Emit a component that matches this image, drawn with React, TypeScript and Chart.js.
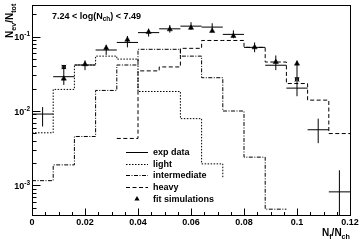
import React, { useEffect, useRef } from "react";
import { Chart, registerables } from "chart.js";

Chart.register(...registerables);

const FONT = '"Liberation Sans", Arial, Helvetica, sans-serif';

// ---- data -------------------------------------------------------------
const binEdges = [0, 0.008, 0.016, 0.024, 0.032, 0.04, 0.048, 0.056, 0.064, 0.072, 0.08, 0.088, 0.096, 0.104, 0.112, 0.12];
const binCenters = [0.004, 0.012, 0.02, 0.028, 0.036, 0.044, 0.052, 0.06, 0.068, 0.076, 0.084, 0.092, 0.1, 0.108, 0.116];

const lightValues = [0.0051, 0.0195, 0.0415, 0.0546, 0.0498, 0.0183, 0.0183, 0.0079, 0.00195, 0.00127, 0, 0, 0, 0, 0];
const intermediateValues = [0.00116, 0.00189, 0.00455, 0.0189, 0.0415, 0.0674, 0.0674, 0.0546, 0.028, 0.01, 0.0024, 0.00048, 0.00048, 0, 0];
const heavyValues = [0, 0, 0, 0, 0.00428, 0.0346, 0.0391, 0.0695, 0.0886, 0.0886, 0.0716, 0.0455, 0.0234, 0.014, 0.00498];

const expValues = [0.0091, 0.0289, 0.0415, 0.066, 0.0834, 0.113, 0.127, 0.138, 0.134, 0.107, 0.0716, 0.0412, 0.0203, 0.0056, 0.00082];
const expLow = [0.0062, 0.0224, 0.0354, 0.0567, 0.0716, 0.1, 0.113, 0.123, 0.119, 0.095, 0.0616, 0.0354, 0.0158, 0.0037, 0.0004];
const expHigh = [0.0113, 0.0412, 0.0479, 0.0778, 0.102, 0.128, 0.143, 0.156, 0.151, 0.121, 0.0834, 0.0557, 0.0249, 0.0079, 0.0016];

const fitValues = [null, 0.0272, 0.0424, 0.07, 0.0905, 0.115, 0.125, 0.131, 0.119, 0.102, 0.0716, 0.0455, 0.0433, null, null];
const fitLow = [null, null, null, null, null, null, null, null, null, null, null, null, 0.0266, null, null];
const fitHigh = [null, null, null, null, null, null, null, null, null, null, null, null, 0.0475, null, null];
const starValues = [null, 0.039, null, null, null, null, null, null, null, null, null, null, 0.0266, null, null];

const xTickValues = [0, 0.02, 0.04, 0.06, 0.08, 0.1, 0.12];
const xTickLabels = ["0", "0.02", "0.04", "0.06", "0.08", "0.1", "0.12"];
const yTickExponents = [-3, -2, -1];
const yTickLabels = ["-3", "-2", "-1"];
const legendLabels = ["exp data", "light", "intermediate", "heavy", "fit simulations"];

const X_MIN = 0;
const X_MAX = 0.12;
const Y_MIN = 4.01e-4;
const Y_MAX = 0.2655;

// ---- helpers ----------------------------------------------------------
type Part = { t: string; sub?: boolean; sup?: boolean };

function histPoints(vals: number[]) {
  const pts = vals.map((v, i) => ({ x: binEdges[i], y: v }));
  pts.push({ x: binEdges[vals.length], y: vals[vals.length - 1] });
  return pts;
}

function hBars(vals: (number | null)[]) {
  const pts: { x: number; y: number | null }[] = [];
  vals.forEach((v, i) => {
    if (v == null) return;
    pts.push({ x: binEdges[i], y: v }, { x: binEdges[i + 1], y: v }, { x: binEdges[i + 1], y: null });
  });
  return pts;
}

function vBars(lo: (number | null)[], hi: (number | null)[]) {
  const pts: { x: number; y: number | null }[] = [];
  lo.forEach((l, i) => {
    const h = hi[i];
    if (l == null || h == null) return;
    pts.push({ x: binCenters[i], y: l }, { x: binCenters[i], y: h }, { x: binCenters[i], y: null });
  });
  return pts;
}

function markers(vals: (number | null)[]) {
  const pts: { x: number; y: number }[] = [];
  vals.forEach((v, i) => {
    if (v != null) pts.push({ x: binCenters[i], y: v });
  });
  return pts;
}

function richText(ctx: CanvasRenderingContext2D, parts: Part[], x: number, y: number, size: number, align: "left" | "right" | "center") {
  const small = size * 0.72;
  const widths = parts.map((p) => {
    ctx.font = `bold ${p.sub || p.sup ? small : size}px ${FONT}`;
    return ctx.measureText(p.t).width;
  });
  const total = widths.reduce((a, b) => a + b, 0);
  let cx = align === "right" ? x - total : align === "center" ? x - total / 2 : x;
  ctx.textAlign = "left";
  ctx.textBaseline = "alphabetic";
  parts.forEach((p, i) => {
    ctx.font = `bold ${p.sub || p.sup ? small : size}px ${FONT}`;
    const dy = p.sub ? size * 0.3 : p.sup ? -size * 0.42 : 0;
    ctx.fillText(p.t, cx, y + dy);
    cx += widths[i];
  });
}

const LIGHT_DASH = [1.5, 1.5];
const INTER_DASH = [4, 1.5, 1, 1.5];
const HEAVY_DASH = [4, 2.5];

const rootPlugin = {
  id: "rootDecor",
  afterDatasetsDraw(chart: any) {
    const ctx: CanvasRenderingContext2D = chart.ctx;
    const xs = chart.scales.x;
    const ys = chart.scales.y;
    const { left, right, top, bottom } = chart.chartArea;
    const L = Math.round(left) + 0.5;
    const R = Math.round(right) + 0.5;
    const T = Math.round(top) + 0.5;
    const B = Math.round(bottom) + 0.5;
    ctx.save();
    ctx.fillStyle = "#000";
    ctx.strokeStyle = "#000";
    ctx.lineWidth = 1;
    ctx.setLineDash([]);
    // frame
    ctx.strokeRect(L, T, R - L, B - T);

    // x ticks (inside)
    ctx.beginPath();
    for (let i = 0; i <= 24; i++) {
      const v = i * 0.005;
      const px = Math.round(xs.getPixelForValue(v)) + 0.5;
      const len = i % 4 === 0 ? 7 : 3.5;
      ctx.moveTo(px, B);
      ctx.lineTo(px, B - len);
    }
    // y ticks (inside)
    for (let e = -4; e <= 0; e++) {
      for (let m = 1; m <= 9; m++) {
        const v = m * Math.pow(10, e);
        if (v < Y_MIN || v > Y_MAX) continue;
        const py = Math.round(ys.getPixelForValue(v)) + 0.5;
        const len = m === 1 ? 8 : 4;
        ctx.moveTo(L, py);
        ctx.lineTo(L + len, py);
      }
    }
    ctx.stroke();

    // x tick labels
    xTickValues.forEach((v, i) => {
      const px = xs.getPixelForValue(v);
      richText(ctx, [{ t: xTickLabels[i] }], px, 225, 9, "center");
    });

    // y tick labels
    yTickExponents.forEach((e, i) => {
      const py = ys.getPixelForValue(Math.pow(10, e));
      richText(ctx, [{ t: "10" }, { t: yTickLabels[i], sup: true }], 30, py + 3.5, 9, "right");
    });

    // title
    richText(ctx, [{ t: "7.24 < log(N" }, { t: "ch", sub: true }, { t: ") < 7.49" }], 52, 18.5, 9, "left");

    // x axis title
    richText(ctx, [{ t: "N" }, { t: "f", sub: true }, { t: "/N" }, { t: "ch", sub: true }], 350, 235.5, 10, "right");

    // y axis title
    ctx.save();
    ctx.translate(12.5, 38);
    ctx.rotate(-Math.PI / 2);
    richText(ctx, [{ t: "N" }, { t: "ev", sub: true }, { t: "/N" }, { t: "tot", sub: true }], 0, 0, 10, "left");
    ctx.restore();

    // legend
    const dashes = [[], LIGHT_DASH, INTER_DASH, HEAVY_DASH, null];
    legendLabels.forEach((lab, i) => {
      const y = 151.8 + i * 11.8;
      const ly = Math.round(y) + 0.5;
      const d = dashes[i];
      if (d) {
        ctx.setLineDash(d as number[]);
        ctx.beginPath();
        ctx.moveTo(126, ly);
        ctx.lineTo(148, ly);
        ctx.stroke();
        ctx.setLineDash([]);
      } else {
        ctx.beginPath();
        ctx.moveTo(137, y - 3);
        ctx.lineTo(139.6, y + 1.5);
        ctx.lineTo(134.4, y + 1.5);
        ctx.closePath();
        ctx.fill();
      }
      ctx.font = `bold 9px ${FONT}`;
      ctx.textAlign = "left";
      ctx.textBaseline = "middle";
      ctx.fillText(lab, 153, y + 0.5);
    });
    ctx.restore();
  },
};

export default function App() {
  const ref = useRef<HTMLCanvasElement | null>(null);
  useEffect(() => {
    if (!ref.current) return;
    const lineBase = { borderColor: "#000", borderWidth: 1, pointRadius: 0, tension: 0, fill: false };
    const chart = new Chart(ref.current, {
      type: "line",
      data: {
        datasets: [
          { ...lineBase, label: "exp data h", data: hBars(expValues), spanGaps: false },
          { ...lineBase, label: "exp data v", data: vBars(expLow, expHigh), spanGaps: false },
          { ...lineBase, label: "light", data: histPoints(lightValues), stepped: true, borderDash: LIGHT_DASH },
          { ...lineBase, label: "intermediate", data: histPoints(intermediateValues), stepped: true, borderDash: INTER_DASH },
          { ...lineBase, label: "heavy", data: histPoints(heavyValues), stepped: true, borderDash: HEAVY_DASH },
          { ...lineBase, label: "fit err", data: vBars(fitLow, fitHigh), spanGaps: false },
          {
            label: "fit simulations",
            data: markers(fitValues),
            showLine: false,
            pointStyle: "triangle",
            pointRadius: 3,
            backgroundColor: "#000",
            borderColor: "#000",
            borderWidth: 0.5,
          },
          {
            label: "star box",
            data: markers(starValues),
            showLine: false,
            pointStyle: "rect",
            pointRadius: 2.2,
            backgroundColor: "rgba(0,0,0,0)",
            borderColor: "#000",
            borderWidth: 1,
          },
          {
            label: "star cross",
            data: markers(starValues),
            showLine: false,
            pointStyle: "crossRot",
            pointRadius: 3,
            borderColor: "#000",
            borderWidth: 1,
          },
        ] as any,
      },
      options: {
        responsive: false,
        animation: false,
        devicePixelRatio: 1,
        layout: { padding: { top: 1, right: 10, left: 0, bottom: 0 } },
        plugins: { legend: { display: false }, tooltip: { enabled: false } },
        scales: {
          x: {
            type: "linear",
            min: X_MIN,
            max: X_MAX,
            grid: { display: false, drawTicks: false },
            border: { display: false },
            ticks: { display: false },
            afterFit: (s: any) => {
              s.height = 26;
            },
          },
          y: {
            type: "logarithmic",
            min: Y_MIN,
            max: Y_MAX,
            grid: { display: false, drawTicks: false },
            border: { display: false },
            ticks: { display: false },
            afterFit: (s: any) => {
              s.width = 32;
            },
          },
        },
      } as any,
      plugins: [rootPlugin],
    });
    return () => chart.destroy();
  }, []);
  return (
    <div style={{ position: "fixed", left: 0, top: 0, width: 360, height: 241, background: "#fff" }}>
      <canvas ref={ref} width={360} height={241} style={{ display: "block" }} />
    </div>
  );
}
